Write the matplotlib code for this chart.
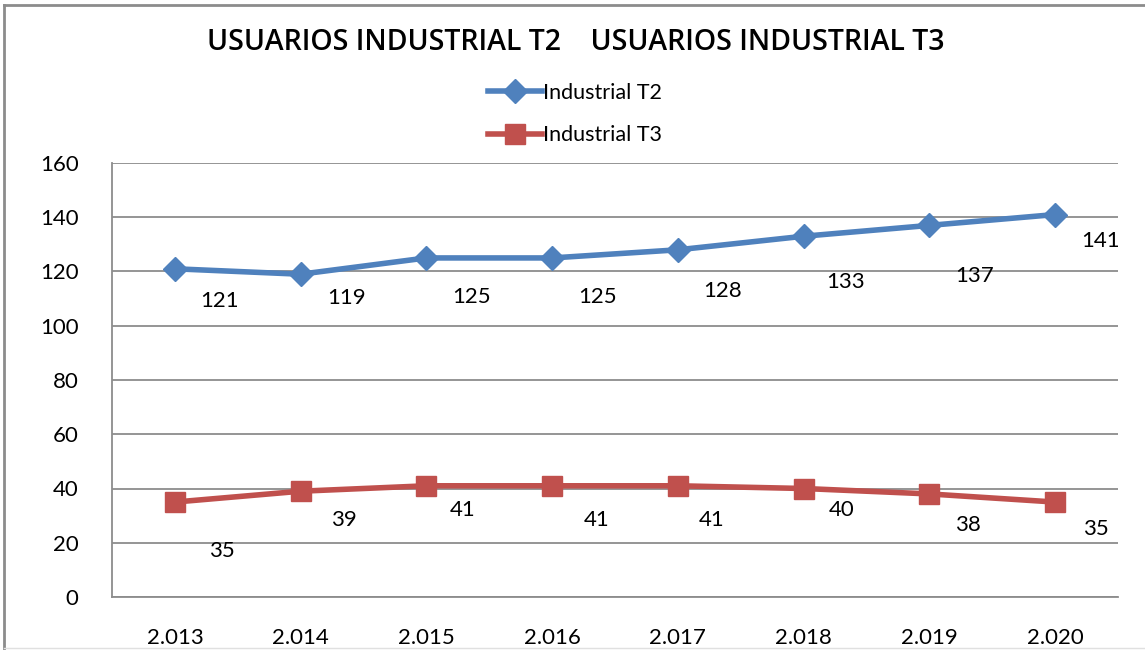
import matplotlib
matplotlib.use('Agg')
import matplotlib.pyplot as plt
from matplotlib.lines import Line2D

years = ['2.013', '2.014', '2.015', '2.016', '2.017', '2.018', '2.019', '2.020']
t2 = [121, 119, 125, 125, 128, 133, 137, 141]
t3 = [35, 39, 41, 41, 41, 40, 38, 35]

# label offsets in pixels (dx, dy), placed by hand like in the original
t2_off = [(45, -32), (46, -24), (45, -39), (45, -39), (45, -41), (42, -46), (45, -51), (45, -26)]
t3_off = [(47, -49), (43, -29), (36, -24), (45, -34), (34, -34), (38, -22), (39, -31), (41, -27)]

plt.rcParams['font.family'] = ['Lato', 'DejaVu Sans']

fig = plt.figure(figsize=(11.45, 6.5), dpi=100)
ax = fig.add_axes([112 / 1145, 53 / 650, 1006 / 1145, 434 / 650])

x = range(len(years))
ax.plot(x, t2, color='#4F81BD', lw=4, marker='D', ms=12, label='Industrial T2', zorder=3)
ax.plot(x, t3, color='#C0504D', lw=4, marker='s', ms=14, label='Industrial T3', zorder=3)

for i, v in enumerate(t2):
    ax.annotate(str(v), (i, v), xytext=t2_off[i], textcoords='offset pixels',
                ha='center', va='center', fontsize=16)
for i, v in enumerate(t3):
    ax.annotate(str(v), (i, v), xytext=t3_off[i], textcoords='offset pixels',
                ha='center', va='center', fontsize=16)

ax.set_xlim(-0.5, 7.5)
ax.set_ylim(0, 160)
ax.set_yticks(range(0, 161, 20))
ax.set_xticks(list(x))
ax.set_xticklabels(years)
ax.grid(axis='y', color='#8c8c8c', lw=1.3)
ax.set_axisbelow(True)
for s in ['top', 'right']:
    ax.spines[s].set_visible(False)
ax.spines['left'].set_color('#8c8c8c')
ax.spines['bottom'].set_color('#8c8c8c')
ax.spines['left'].set_linewidth(1.3)
ax.spines['bottom'].set_linewidth(1.3)
ax.tick_params(axis='y', length=0, pad=24, labelsize=16)
ax.tick_params(axis='x', length=0, pad=22, labelsize=16)

fig.text(576 / 1145, 607 / 650, 'USUARIOS INDUSTRIAL T2    USUARIOS INDUSTRIAL T3',
         ha='center', va='center', fontsize=20.5, weight='semibold',
         family=['Open Sans', 'Noto Sans', 'DejaVu Sans'])

fig.legend(loc='center', bbox_to_anchor=(575 / 1145, 536 / 650), frameon=False,
           fontsize=15.5, handlelength=2.5, handletextpad=0.05, labelspacing=1.05)

fig.add_artist(Line2D([4 / 1145, 4 / 1145], [0, 645 / 650], color='#8c8c8c', lw=2))
fig.add_artist(Line2D([4 / 1145, 1], [645 / 650, 645 / 650], color='#8c8c8c', lw=2))
fig.add_artist(Line2D([4 / 1145, 1], [2 / 650, 2 / 650], color='#e0e0e0', lw=1))

fig.savefig('out.png', dpi=100)
